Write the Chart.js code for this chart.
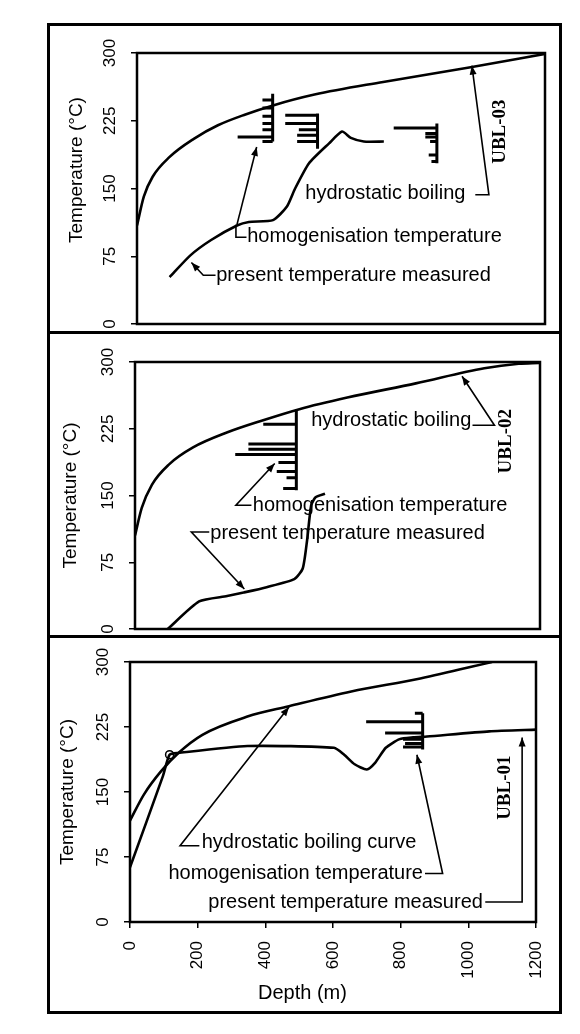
<!DOCTYPE html>
<html>
<head>
<meta charset="utf-8">
<title>UBL wells - temperature vs depth</title>
<script src="https://cdn.jsdelivr.net/npm/chart.js@4"></script>
<style>
  html, body { margin: 0; padding: 0; background: #fff; }
  #page { position: relative; width: 580px; height: 1034px; overflow: hidden; }
  .frame { position: absolute; left: 47px; top: 23px; width: 509px; height: 985px; border: 3px solid #000; }
  .rule { position: absolute; left: 47px; width: 515px; height: 3px; background: #000; }
  canvas { position: absolute; left: 0; }
</style>
</head>
<body>
<div id="page">
  <div class="frame"></div>
  <div class="rule" style="top:331px"></div>
  <div class="rule" style="top:635px"></div>
  <canvas id="c03" width="580" height="332" style="top:0"></canvas>
  <canvas id="c02" width="580" height="300" style="top:335px"></canvas>
  <canvas id="c01" width="580" height="396" style="top:638px"></canvas>
</div>
<script>
// ---- data (depth in m, temperature in degC) ----

// UBL-03 (top panel)
const boil03Depth = [0, 20, 46, 96, 167, 238, 319, 400, 522, 724, 977, 1200];
const boil03Temp  = [109, 141, 163, 185, 205, 220, 232, 242, 254, 268, 284, 299];
const pres03Depth = [96, 157, 218, 294, 329, 400, 441, 465, 506, 565, 603, 629, 667, 726];
const pres03Temp  = [52, 76, 93, 109, 113, 115, 130, 150, 178, 200, 213, 206, 202, 202];
const th03Depth = [399, 531, 882];
const th03Temp  = [[248, 239, 230, 222, 215, 207, 202], [231, 222, 215, 209, 202], [217, 211, 207, 202, 187, 180]];
const th03Len   = [[30, 30, 30, 30, 30, 103, 30], [95, 95, 55, 60, 60], [127, 34, 34, 20, 24, 16]];
const th03Span  = [[202, 255], [194, 233], [178, 222]];

// UBL-02 (middle panel)
const boil02Depth = [0, 20, 50, 101, 172, 274, 375, 487, 629, 832, 1035, 1137, 1197];
const boil02Temp  = [105, 136, 162, 185, 204, 221, 234, 247, 260, 276, 293, 298, 299];
const pres02Depth = [97, 190, 273, 322, 390, 472, 497, 510, 522, 535, 563];
const pres02Temp  = [0, 31, 37, 41, 47, 56, 68, 100, 139, 148, 152];
const th02Depth = [478];
const th02Temp  = [[230, 208, 202, 196, 187, 177, 170, 158]];
const th02Len   = [[98, 142, 142, 181, 53, 58, 29, 39]];
const th02Span  = [[156, 245]];

// UBL-01 (bottom panel)
const boil01Depth = [0, 41, 92, 143, 214, 347, 470, 654, 858, 1070];
const boil01Temp  = [117, 147, 174, 195, 216, 237, 249, 266, 281, 300];
const pres01Depth = [0, 97, 117, 143, 347, 603, 633, 664, 700, 725, 756, 797, 837, 878, 1062, 1200];
const pres01Temp  = [63, 168, 193, 195, 203, 201, 193, 182, 176, 184, 201, 211, 213, 214, 220, 222];
const th01Depth = [865];
const th01Temp  = [[241, 231, 218, 211, 206, 202]];
const th01Len   = [[23, 167, 111, 58, 52, 58]];
const th01Span  = [[199, 241]];

// axes
const tempTicks = [0, 75, 150, 225, 300];
const depthTicks = [0, 200, 400, 600, 800, 1000, 1200];

const SANS = '"Liberation Sans", Arial, Helvetica, sans-serif';
const SERIF = '"Liberation Serif", "Times New Roman", serif';
const NB = '\u00a0';

function zip(xs, ys) {
  return xs.map((x, i) => ({ x: x, y: ys[i] }));
}

// homogenisation temperatures: vertical base line with bars reaching left from it
function histogram(depths, temps, lens, spans) {
  const pts = [];
  depths.forEach((d, g) => {
    pts.push({ x: d, y: spans[g][0] }, { x: d, y: spans[g][1] }, { x: d, y: null });
    temps[g].forEach((t, i) => {
      pts.push({ x: d - lens[g][i], y: t }, { x: d, y: t }, { x: d, y: null });
    });
  });
  return pts;
}

// plot box, labels, leader lines and arrow heads (placed in data units)
function notesPlugin(notes) {
  return {
    id: 'notes',
    afterDatasetsDraw(chart) {
      const { ctx, chartArea: a } = chart;
      ctx.save();
      ctx.strokeStyle = '#000';
      ctx.lineWidth = 2.5;
      ctx.strokeRect(a.left, a.top, a.right - a.left, a.bottom - a.top);
      ctx.restore();
    },
    afterDraw(chart) {
      const { ctx, scales: { x, y } } = chart;
      const px = p => [x.getPixelForValue(p[0]), y.getPixelForValue(p[1])];
      ctx.save();
      ctx.strokeStyle = '#000';
      ctx.fillStyle = '#000';
      notes.leaders.forEach(l => {
        const q = l.pts.map(px);
        ctx.lineWidth = 1.6;
        ctx.beginPath();
        q.forEach((p, i) => i ? ctx.lineTo(p[0], p[1]) : ctx.moveTo(p[0], p[1]));
        ctx.stroke();
        if (l.head) {
          const a = q[q.length - 2], b = q[q.length - 1];
          const ang = Math.atan2(b[1] - a[1], b[0] - a[0]);
          const c = Math.cos(ang), s = Math.sin(ang);
          ctx.beginPath();
          ctx.moveTo(b[0], b[1]);
          ctx.lineTo(b[0] - 9 * c + 3.5 * s, b[1] - 9 * s - 3.5 * c);
          ctx.lineTo(b[0] - 9 * c - 3.5 * s, b[1] - 9 * s + 3.5 * c);
          ctx.closePath();
          ctx.fill();
        }
      });
      notes.labels.forEach(l => {
        const p = px([l.x, l.y]);
        ctx.save();
        ctx.translate(p[0], p[1]);
        ctx.textBaseline = 'middle';
        if (l.rot) {
          ctx.rotate(-Math.PI / 2);
          ctx.font = 'bold 19px ' + SERIF;
          ctx.textAlign = 'center';
        } else {
          ctx.font = '20px ' + SANS;
          ctx.textAlign = l.align;
        }
        ctx.fillText(l.text, 0, 0);
        ctx.restore();
      });
      ctx.restore();
    }
  };
}

function yAxis(width, titlePad, titleText) {
  return {
    type: 'linear',
    min: tempTicks[0],
    max: tempTicks[tempTicks.length - 1],
    afterBuildTicks: s => { s.ticks = tempTicks.map(v => ({ value: v })); },
    ticks: { minRotation: 90, maxRotation: 90, crossAlign: 'center', padding: 7, color: '#000', font: { family: SANS, size: 17 },
             callback: v => String(v) },
    grid: { drawOnChartArea: false, drawTicks: true, tickLength: 6, color: '#000', lineWidth: 1.5 },
    border: { display: false },
    title: { display: true, text: titleText, color: '#000', font: { family: SANS, size: 19 }, padding: { top: titlePad, bottom: 0 } },
    afterFit: s => { s.width = width; s.paddingTop = 0; s.paddingBottom = 0; }
  };
}

function xAxis(showTicks) {
  const ax = {
    type: 'linear',
    min: depthTicks[0],
    max: depthTicks[depthTicks.length - 1],
    display: showTicks
  };
  if (showTicks) {
    Object.assign(ax, {
      afterBuildTicks: s => { s.ticks = depthTicks.map(v => ({ value: v })); },
      ticks: { minRotation: 90, maxRotation: 90, padding: 13, color: '#000', font: { family: SANS, size: 17 },
               callback: v => String(v) },
      grid: { drawOnChartArea: false, drawTicks: true, tickLength: 6, color: '#000', lineWidth: 1.5 },
      border: { display: false },
      title: { display: true, text: 'Depth (m)' + NB.repeat(11), color: '#000', font: { family: SANS, size: 20 }, padding: { top: 0, bottom: 29 } },
      afterFit: s => { s.height = 112; s.paddingLeft = 0; s.paddingRight = 0; }
    });
  }
  return ax;
}

function makeChart(id, p) {
  return new Chart(document.getElementById(id), {
    type: 'line',
    data: {
      datasets: [
        { label: 'hydrostatic boiling', data: zip(p.boilDepth, p.boilTemp), borderColor: '#000', borderWidth: 2.6, pointRadius: 0, cubicInterpolationMode: 'monotone' },
        { label: 'present temperature measured', data: zip(p.presDepth, p.presTemp), borderColor: '#000', borderWidth: 2.6, tension: 0.2,
          pointRadius: p.presDepth.map((d, i) => i === p.ring ? 4 : 0), pointBorderColor: '#000', pointBorderWidth: 1.5, pointBackgroundColor: 'rgba(0,0,0,0)' },
        { label: 'homogenisation temperature', data: histogram(p.thDepth, p.thTemp, p.thLen, p.thSpan), borderColor: '#000', borderWidth: 3, pointRadius: 0, tension: 0, spanGaps: false }
      ]
    },
    options: {
      responsive: false,
      animation: false,
      events: [],
      layout: { padding: p.pad },
      scales: { x: xAxis(p.depthAxis), y: yAxis(p.yWidth, p.titlePad, p.yTitle) },
      plugins: { legend: { display: false }, tooltip: { enabled: false } }
    },
    plugins: [notesPlugin(p.notes)]
  });
}

makeChart('c03', {
  boilDepth: boil03Depth, boilTemp: boil03Temp, presDepth: pres03Depth, presTemp: pres03Temp, ring: -1,
  thDepth: th03Depth, thTemp: th03Temp, thLen: th03Len, thSpan: th03Span,
  pad: { left: 0, top: 53, right: 35, bottom: 8 }, yWidth: 137, titlePad: 65.6, depthAxis: false,
  yTitle: NB.repeat(7) + 'Temperature (°C)',
  notes: {
    labels: [
      { text: 'hydrostatic boiling', x: 495, y: 145, align: 'left' },
      { text: 'homogenisation temperature', x: 324, y: 97, align: 'left' },
      { text: 'present temperature measured', x: 233, y: 54, align: 'left' },
      { text: 'UBL-03', x: 1068, y: 213, rot: true }
    ],
    leaders: [
      { pts: [[995, 143], [1035, 143], [985, 286]], head: true },
      { pts: [[322, 96], [291, 96], [291, 110]], head: false },
      { pts: [[294, 110], [352, 196]], head: true },
      { pts: [[231, 54], [195, 54], [160, 68]], head: true }
    ]
  }
});

makeChart('c02', {
  boilDepth: boil02Depth, boilTemp: boil02Temp, presDepth: pres02Depth, presTemp: pres02Temp, ring: -1,
  thDepth: th02Depth, thTemp: th02Temp, thLen: th02Len, thSpan: th02Span,
  pad: { left: 0, top: 27, right: 40, bottom: 6 }, yWidth: 135, titlePad: 59.6, depthAxis: false,
  yTitle: 'Temperature (°C)',
  notes: {
    labels: [
      { text: 'hydrostatic boiling', x: 522, y: 234, align: 'left' },
      { text: 'homogenisation temperature', x: 349, y: 139, align: 'left' },
      { text: 'present temperature measured', x: 223, y: 107, align: 'left' },
      { text: 'UBL-02', x: 1100, y: 211, rot: true }
    ],
    leaders: [
      { pts: [[1000, 229], [1065, 229], [969, 284]], head: true },
      { pts: [[345, 139], [299, 139], [414, 186]], head: true },
      { pts: [[220, 109], [167, 109], [324, 45]], head: true }
    ]
  }
});

makeChart('c01', {
  boilDepth: boil01Depth, boilTemp: boil01Temp, presDepth: pres01Depth, presTemp: pres01Temp, ring: 2,
  thDepth: th01Depth, thTemp: th01Temp, thLen: th01Len, thSpan: th01Span,
  pad: { left: 0, top: 24, right: 44, bottom: 0 }, yWidth: 130, titlePad: 56.6, depthAxis: true,
  yTitle: 'Temperature (°C)',
  notes: {
    labels: [
      { text: 'hydrostatic boiling curve', x: 212, y: 92, align: 'left' },
      { text: 'homogenisation temperature', x: 866, y: 56, align: 'right' },
      { text: 'present temperature measured', x: 1043, y: 23, align: 'right' },
      { text: 'UBL-01', x: 1108, y: 155, rot: true }
    ],
    leaders: [
      { pts: [[205, 88], [148, 88], [470, 248]], head: true },
      { pts: [[872, 56], [924, 56], [848, 193]], head: true },
      { pts: [[1050, 23], [1159, 23], [1159, 213]], head: true }
    ]
  }
});
</script>
</body>
</html>
